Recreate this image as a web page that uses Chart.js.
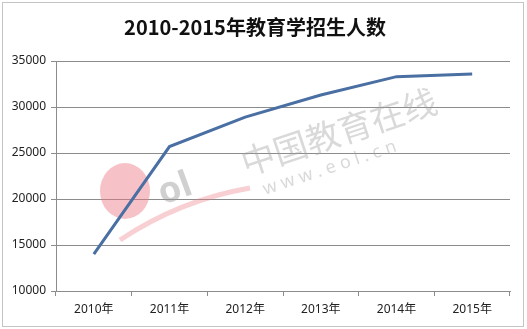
<!DOCTYPE html>
<html>
<head>
<meta charset="utf-8">
<script src="https://cdn.jsdelivr.net/npm/chart.js@4/dist/chart.umd.min.js"></script>
<style>
  html, body { margin: 0; padding: 0; background: #fff; }
  #wrap { width: 527px; height: 329px; position: relative; }
</style>
</head>
<body>
<div id="wrap"><canvas id="lineChart"></canvas></div>
<script>
// data
const years = ['2010年', '2011年', '2012年', '2013年', '2014年', '2015年'];
const enrolment = [14000, 25700, 28900, 31300, 33300, 33600];
const yTicks = [10000, 15000, 20000, 25000, 30000, 35000];

const FONT = "'Noto Sans', 'Noto Sans CJK SC', sans-serif";
const GRID = '#8c8c8c';

// outer frame + faint watermark behind the line
const decor = {
    id: 'decor',
    beforeDatasetsDraw(chart) {
        const ctx = chart.ctx;
        ctx.save();
        // red disc of the logo
        ctx.fillStyle = 'rgba(235, 120, 130, 0.45)';
        ctx.beginPath();
        ctx.ellipse(125, 191, 25, 28, 0, 0, Math.PI * 2);
        ctx.fill();
        ctx.strokeStyle = 'rgba(235, 120, 130, 0.35)';
        ctx.lineWidth = 5;
        ctx.beginPath();
        ctx.moveTo(120, 240);
        ctx.quadraticCurveTo(180, 200, 250, 188);
        ctx.stroke();
        // grey letters
        ctx.fillStyle = 'rgba(150, 150, 150, 0.45)';
        ctx.font = "bold 36px " + FONT;
        ctx.save();
        ctx.translate(163, 205);
        ctx.rotate(-0.35);
        ctx.fillText('ol', 0, 0);
        ctx.restore();
        // site name
        ctx.save();
        ctx.translate(246, 176);
        ctx.rotate(-0.32);
        ctx.font = "34px 'Noto Sans CJK SC', sans-serif";
        ctx.fillStyle = 'rgba(160, 160, 160, 0.4)';
        ctx.fillText('中国教育在线', 0, 0);
        ctx.font = "18px " + FONT;
        ctx.fillText('w w w . e o l . c n', 12, 24);
        ctx.restore();
        ctx.restore();
    },
    afterDraw(chart) {
        const ctx = chart.ctx;
        ctx.save();
        ctx.strokeStyle = '#c4c4c4';
        ctx.lineWidth = 1;
        ctx.strokeRect(2.5, 2.5, 521, 324);
        ctx.restore();
    }
};

new Chart(document.getElementById('lineChart'), {
    type: 'line',
    data: {
        labels: years,
        datasets: [{
            label: '招生人数',
            data: enrolment,
            borderColor: '#4a6fa3',
            borderWidth: 3,
            pointRadius: 0,
            tension: 0,
            fill: false
        }]
    },
    options: {
        responsive: true,
        maintainAspectRatio: false,
        animation: false,
        devicePixelRatio: 1,
        layout: { padding: { top: 15, right: 17, left: 0, bottom: 0 } },
        plugins: {
            legend: { display: false },
            tooltip: { enabled: false },
            title: {
                display: true,
                text: '2010-2015年教育学招生人数',
                color: '#111',
                font: { family: "'Noto Sans CJK SC', sans-serif", size: 20, weight: 'bold' },
                padding: { top: 0, bottom: 22 }
            }
        },
        scales: {
            y: {
                min: 10000,
                max: 35000,
                afterFit(axis) { axis.width = 56; },
                afterBuildTicks(axis) { axis.ticks = yTicks.map(v => ({ value: v })); },
                border: { color: GRID },
                grid: { color: GRID, tickLength: 5 },
                ticks: {
                    color: '#222',
                    padding: 5,
                    font: { family: FONT, size: 12 },
                    callback: v => String(v)
                }
            },
            x: {
                offset: true,
                afterFit(axis) { axis.height = 38; },
                border: { color: GRID },
                grid: { color: GRID, drawOnChartArea: false, tickLength: 5, offset: true },
                ticks: {
                    color: '#222',
                    padding: 6,
                    maxRotation: 0,
                    font: { family: FONT, size: 12 }
                }
            }
        }
    },
    plugins: [decor]
});
</script>
</body>
</html>
